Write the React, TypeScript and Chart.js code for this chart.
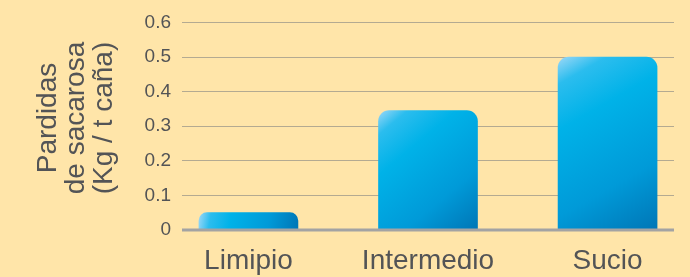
import React, { useEffect, useRef } from "react";
import { Chart, registerables } from "chart.js";

Chart.register(...registerables);

const categories = ["Limipio", "Intermedio", "Sucio"];
const values = [0.05, 0.345, 0.5];
const yMin = 0;
const yMax = 0.6;
const yStep = 0.1;
const yTitleLines = ["Pardidas", "de sacarosa", "(Kg / t caña)"];

const BG = "#FFE5A9";
const TEXT = "#535456";
const FONT = "'Liberation Sans', Arial, sans-serif";

export default function App() {
  const ref = useRef<HTMLCanvasElement | null>(null);

  useEffect(() => {
    const canvas = ref.current;
    if (!canvas) return;

    const zeroLine = {
      id: "zeroLine",
      afterDatasetsDraw(chart: any) {
        const { ctx, chartArea } = chart;
        const y = chart.scales.y.getPixelForValue(0);
        ctx.save();
        ctx.strokeStyle = "#a3a3a3";
        ctx.lineWidth = 3;
        ctx.beginPath();
        ctx.moveTo(chartArea.left, y);
        ctx.lineTo(chartArea.right, y);
        ctx.stroke();
        ctx.restore();
      },
    };

    const yTitle = {
      id: "yTitle",
      afterDraw(chart: any) {
        const { ctx } = chart;
        const baselines = [56, 84, 112];
        ctx.save();
        ctx.fillStyle = TEXT;
        ctx.font = `28px ${FONT}`;
        ctx.textAlign = "center";
        ctx.textBaseline = "alphabetic";
        yTitleLines.forEach((line, i) => {
          ctx.save();
          ctx.translate(baselines[i], 118);
          ctx.rotate(-Math.PI / 2);
          ctx.fillText(line, 0, 0);
          ctx.restore();
        });
        ctx.restore();
      },
    };

    const chart = new Chart(canvas, {
      type: "bar",
      data: {
        datasets: [
          {
            data: values.map((v, i) => ({ x: i, y: v })),
            barThickness: 99,
            borderRadius: { topLeft: 11, topRight: 11, bottomLeft: 0, bottomRight: 0 },
            borderSkipped: "bottom",
            backgroundColor: (c: any) => {
              const ch = c.chart;
              if (!ch.chartArea || c.type !== "data") return "#00b0e8";
              const xs = ch.scales.x;
              const ys = ch.scales.y;
              const cx = xs.getPixelForValue(c.raw.x);
              const top = ys.getPixelForValue(c.raw.y);
              const bottom = ys.getPixelForValue(0);
              const g = ch.ctx.createLinearGradient(cx - 49.5, top, cx + 49.5, bottom);
              g.addColorStop(0, "#9cd8f7");
              g.addColorStop(0.12, "#2bbdee");
              g.addColorStop(0.32, "#00b2e8");
              g.addColorStop(0.7, "#009ad8");
              g.addColorStop(1, "#0076b6");
              return g;
            },
          } as any,
        ],
      },
      options: {
        responsive: false,
        animation: false,
        layout: { padding: { left: 0, right: 16, top: 22, bottom: 0 } },
        plugins: {
          legend: { display: false },
          tooltip: { enabled: false },
        },
        scales: {
          x: {
            type: "linear",
            offset: false,
            min: -0.37,
            max: 2.37,
            grid: { display: false, offset: false },
            border: { display: false },
            afterBuildTicks: (s: any) => {
              s.ticks = categories.map((_, i) => ({ value: i }));
            },
            ticks: {
              autoSkip: false,
              maxRotation: 0,
              minRotation: 0,
              padding: 6,
              color: TEXT,
              font: { family: FONT, size: 28 },
              callback: (v: any) => {
                const n = Math.round(Number(v));
                return categories[n] ?? "";
              },
            },
            afterFit: (s: any) => {
              s.height = 47;
            },
          },
          y: {
            min: yMin,
            max: yMax,
            grid: {
              drawTicks: false,
              lineWidth: 1,
              color: (c: any) => (c.tick && c.tick.value === 0 ? "rgba(0,0,0,0)" : "rgba(130,130,130,0.6)"),
            },
            border: { display: false },
            ticks: {
              stepSize: yStep,
              padding: 11,
              color: TEXT,
              font: { family: FONT, size: 19 },
            },
            afterFit: (s: any) => {
              s.width = 182;
            },
          },
        },
      } as any,
      plugins: [zeroLine, yTitle],
    });

    return () => chart.destroy();
  }, []);

  return (
    <div style={{ position: "absolute", left: 0, top: 0, width: 690, height: 277, background: BG }}>
      <canvas ref={ref} width={690} height={277} style={{ display: "block" }} />
    </div>
  );
}
